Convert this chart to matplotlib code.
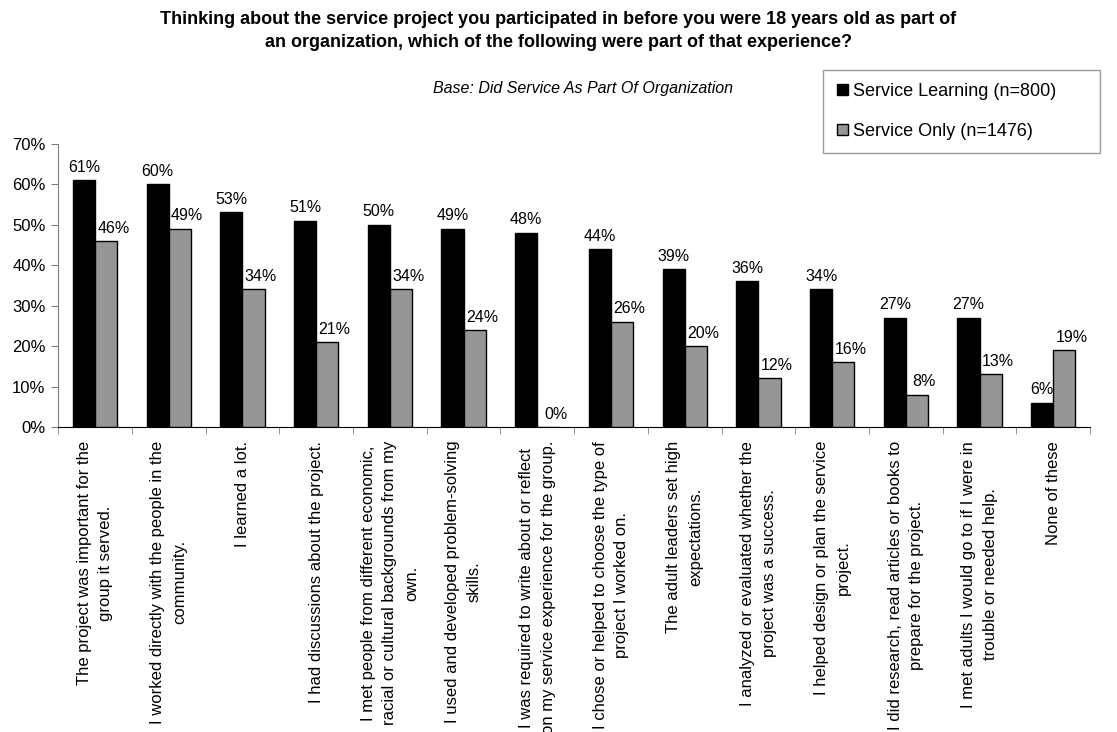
import numpy as np
import matplotlib.pyplot as plt
from matplotlib.ticker import FixedLocator

plt.rcParams['font.family'] = ['Liberation Sans', 'DejaVu Sans']

categories = [
    "The project was important for the\ngroup it served.",
    "I worked directly with the people in the\ncommunity.",
    "I learned a lot.",
    "I had discussions about the project.",
    "I met people from different economic,\nracial or cultural backgrounds from my\nown.",
    "I used and developed problem-solving\nskills.",
    "I was required to write about or reflect\non my service experience for the group.",
    "I chose or helped to choose the type of\nproject I worked on.",
    "The adult leaders set high\nexpectations.",
    "I analyzed or evaluated whether the\nproject was a success.",
    "I helped design or plan the service\nproject.",
    "I did research, read articles or books to\nprepare for the project.",
    "I met adults I would go to if I were in\ntrouble or needed help.",
    "None of these",
]
service_learning = [61, 60, 53, 51, 50, 49, 48, 44, 39, 36, 34, 27, 27, 6]
service_only = [46, 49, 34, 21, 34, 24, 0, 26, 20, 12, 16, 8, 13, 19]

fig = plt.figure(figsize=(11.17, 7.32), dpi=100)
ax = fig.add_axes([0.052, 0.4167, 0.924, 0.387])

x = np.arange(len(categories))
w = 0.3
ax.bar(x - w / 2, service_learning, w, color='black', edgecolor='black',
       linewidth=1, label='Service Learning (n=800)')
ax.bar(x + w / 2, service_only, w, color='#969696', edgecolor='black',
       linewidth=1, label='Service Only (n=1476)')

for xi, v in zip(x, service_learning):
    ax.text(xi - w / 2, v + 1.3, f"{v}%", ha='center', va='bottom', fontsize=11.5)
for xi, v in zip(x, service_only):
    ax.text(xi + w / 2 + 0.1, v + 1.3, f"{v}%", ha='center', va='bottom', fontsize=11.5)

ax.set_xlim(-0.5, len(categories) - 0.5)
ax.set_ylim(0, 70)
ax.set_yticks(range(0, 71, 10))
ax.set_yticklabels([f"{t}%" for t in range(0, 71, 10)], fontsize=12)

ax.set_xticks(x)
ax.set_xticklabels(categories, rotation=90, fontsize=12, ha='center', va='top',
                   multialignment='center')
for lbl in ax.get_xticklabels():
    lbl.set_linespacing(1.55)
ax.tick_params(axis='x', which='major', length=0, pad=10)
ax.xaxis.set_minor_locator(FixedLocator(np.arange(-0.5, len(categories), 1)))
ax.tick_params(axis='x', which='minor', length=5, color='#808080')
ax.tick_params(axis='y', length=5, color='#808080', pad=4)

for s in ['top', 'right']:
    ax.spines[s].set_visible(False)
ax.spines['left'].set_color('#808080')
ax.spines['bottom'].set_color('black')

fig.text(0.5, 0.985, "Thinking about the service project you participated in before you were 18 years old as part of\n"
         "an organization, which of the following were part of that experience?",
         ha='center', va='top', fontsize=13, fontweight='bold', linespacing=1.45)
fig.text(0.522, 0.879, "Base: Did Service As Part Of Organization", ha='center', va='center',
         fontsize=11.5, style='italic')

# legend box stretched to a fixed width in the top right corner
leg = fig.legend(loc='upper left', bbox_to_anchor=(0.737, 0.79, 0.248, 0.115),
                 mode='expand', frameon=True, fancybox=False, edgecolor='#808080',
                 fontsize=13, handlelength=0.6, handleheight=0.6, handletextpad=0.3,
                 labelspacing=1.25, borderpad=0.75, borderaxespad=0)
leg.get_frame().set_linewidth(1)

fig.savefig('out.png', dpi=100)
